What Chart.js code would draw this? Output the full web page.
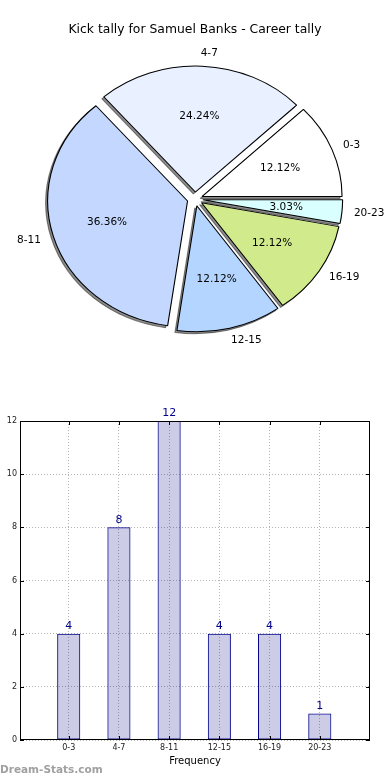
<!DOCTYPE html>
<html>
<head>
<title>Kick tally for Samuel Banks</title>
<script src="https://cdn.jsdelivr.net/npm/chart.js"></script>
<style>
    body { margin: 0; background: #fff; }
    #wrap { position: relative; width: 390px; height: 780px; }
    #pieBox { position: absolute; left: 0; top: 0; width: 390px; height: 380px; }
    #barBox { position: absolute; left: 0; top: 380px; width: 390px; height: 400px; }
    #mark {
        position: absolute; left: 0; top: 763px;
        font: bold 10.5px "DejaVu Sans", sans-serif; color: #a0a0a0;
    }
</style>
</head>
<body>
<div id="wrap">
    <div id="pieBox"><canvas id="pieChart"></canvas></div>
    <div id="barBox"><canvas id="barChart"></canvas></div>
    <div id="mark">Dream-Stats.com</div>
</div>

<script>
    // data
    const categories = ['0-3', '4-7', '8-11', '12-15', '16-19', '20-23'];
    const kickCounts = [4, 8, 12, 4, 4, 1];
    const yTicks = [0, 2, 4, 6, 8, 10, 12];

    const sliceColors = ['#ffffff', '#e9f0ff', '#c4d8ff', '#b3d5ff', '#d0ea8c', '#d9ffff'];
    const FAMILY = 'DejaVu Sans';
    const FONT = '"DejaVu Sans", sans-serif';
    const STRETCH = 1.11;  // the original pie is a bit wider than tall
    const GAP = 7;         // exploded slice distance, px
    const FAR = 10000;     // used to draw only the shadow

    Chart.defaults.font.family = FAMILY;
    Chart.defaults.color = '#000';

    const total = kickCounts.reduce((a, b) => a + b, 0);

    // matplotlib goes counter-clockwise from 3 o'clock, chart.js clockwise -> reverse
    const pieLabels = categories.slice().reverse();
    const pieValues = kickCounts.slice().reverse();
    const pieColors = sliceColors.slice().reverse();

    function drawArcs(ctx, arcs) {
        const cx = arcs[0].x, cy = arcs[0].y;
        ctx.translate(cx, cy);
        ctx.scale(STRETCH, 1);
        ctx.translate(-cx, -cy);
        arcs.forEach(arc => {
            const m = (arc.startAngle + arc.endAngle) / 2;
            ctx.save();
            ctx.translate(Math.cos(m) * GAP, Math.sin(m) * GAP);
            arc.draw(ctx);
            ctx.restore();
        });
    }

    const pieDecor = {
        id: 'pieDecor',
        beforeDatasetDraw(chart, args) {
            const ctx = chart.ctx;
            const arcs = args.meta.data;
            // shadows first, all under the slices
            ctx.save();
            ctx.translate(-FAR, 0);
            ctx.shadowColor = 'rgba(0,0,0,0.45)';
            ctx.shadowOffsetX = FAR - 2;
            ctx.shadowOffsetY = 2;
            ctx.shadowBlur = 0;
            drawArcs(ctx, arcs);
            ctx.restore();
            // slices
            ctx.save();
            drawArcs(ctx, arcs);
            ctx.restore();
            return false;
        },
        afterDatasetsDraw(chart) {
            const ctx = chart.ctx;
            const arcs = chart.getDatasetMeta(0).data;
            ctx.save();
            ctx.fillStyle = '#000';
            ctx.font = '10.5px ' + FONT;
            arcs.forEach((arc, i) => {
                const mid = (arc.startAngle + arc.endAngle) / 2;
                const r = arc.outerRadius;
                const cs = Math.cos(mid), sn = Math.sin(mid);
                let d = GAP + 0.6 * r;
                ctx.textAlign = 'center';
                ctx.textBaseline = 'middle';
                ctx.fillText((pieValues[i] / total * 100).toFixed(2) + '%',
                    arc.x + cs * d * STRETCH, arc.y + sn * d);
                d = GAP + 1.1 * r;
                ctx.textAlign = cs < 0 ? 'right' : 'left';
                const nudge = cs < 0 ? 1 : -2;
                ctx.fillText(pieLabels[i], arc.x + cs * d * STRETCH + nudge, arc.y + sn * d);
            });
            ctx.restore();
        }
    };

    new Chart(document.getElementById('pieChart'), {
        type: 'pie',
        data: {
            labels: pieLabels,
            datasets: [{
                data: pieValues,
                backgroundColor: pieColors,
                borderColor: '#000',
                borderWidth: 1,
                clip: false
            }]
        },
        options: {
            responsive: true,
            maintainAspectRatio: false,
            animation: false,
            events: [],
            rotation: 90,
            layout: { padding: { top: 0, bottom: 54.5, left: 68.5, right: 68.5 } },
            plugins: {
                legend: { display: false },
                tooltip: { enabled: false },
                title: {
                    display: true,
                    text: 'Kick tally for Samuel Banks - Career tally',
                    color: '#000',
                    font: { family: FAMILY, size: 13, weight: 'normal' },
                    padding: { top: 22, bottom: 34.9 }
                }
            }
        },
        plugins: [pieDecor]
    });

    // bar chart extras: box frame, inward ticks, value labels, y title
    const barDecor = {
        id: 'barDecor',
        afterDraw(chart) {
            const ctx = chart.ctx;
            const a = chart.chartArea;
            const xs = chart.scales.x, ys = chart.scales.y;
            ctx.save();
            ctx.strokeStyle = '#000';
            ctx.lineWidth = 1;
            ctx.strokeRect(a.left + 0.5, a.top + 0.5, a.right - a.left - 1, a.bottom - a.top - 1);
            ctx.beginPath();
            yTicks.forEach(v => {
                const y = Math.round(ys.getPixelForValue(v)) + 0.5;
                ctx.moveTo(a.left, y); ctx.lineTo(a.left + 4, y);
                ctx.moveTo(a.right, y); ctx.lineTo(a.right - 4, y);
            });
            categories.forEach((c, i) => {
                const x = Math.round(xs.getPixelForValue(i)) + 0.5;
                ctx.moveTo(x, a.bottom); ctx.lineTo(x, a.bottom - 4);
                ctx.moveTo(x, a.top); ctx.lineTo(x, a.top + 4);
            });
            ctx.stroke();

            // value labels
            ctx.fillStyle = '#00008b';
            ctx.font = '11px ' + FONT;
            ctx.textAlign = 'center';
            ctx.textBaseline = 'bottom';
            chart.getDatasetMeta(0).data.forEach((bar, i) => {
                ctx.fillText(String(kickCounts[i]), bar.x, bar.y - 2);
            });

            // y axis title, mostly cut off by the left edge like the original
            ctx.translate(3, 577);
            ctx.rotate(-Math.PI / 2);
            ctx.fillStyle = '#000';
            ctx.font = '10px ' + FONT;
            ctx.textAlign = 'center';
            ctx.textBaseline = 'alphabetic';
            ctx.fillText('Stat instance', 0, 0);
            ctx.restore();
        }
    };

    new Chart(document.getElementById('barChart'), {
        type: 'bar',
        data: {
            datasets: [{
                data: kickCounts.map((v, i) => ({ x: i, y: v })),
                backgroundColor: 'rgba(0,0,128,0.2)',
                borderColor: '#00008b',
                borderWidth: 1,
                borderSkipped: false,
                categoryPercentage: 1,
                barPercentage: 0.46
            }]
        },
        options: {
            responsive: true,
            maintainAspectRatio: false,
            animation: false,
            events: [],
            layout: { padding: { top: 41, right: 20, bottom: 10, left: 0 } },
            plugins: { legend: { display: false }, tooltip: { enabled: false } },
            scales: {
                x: {
                    type: 'linear',
                    offset: false,
                    min: -0.97,
                    max: 6,
                    afterBuildTicks: s => { s.ticks = categories.map((c, i) => ({ value: i })); },
                    afterFit: s => { s.height = 30; },
                    ticks: {
                        autoSkip: false,
                        maxRotation: 0,
                        padding: 3,
                        color: '#222',
                        font: { family: FAMILY, size: 8 },
                        callback: v => categories[v] ?? ''
                    },
                    grid: { color: '#b4b4b4', drawTicks: false, offset: false },
                    border: { display: false, dash: [1, 2] },
                    title: {
                        display: true,
                        text: 'Frequency',
                        color: '#000',
                        font: { family: FAMILY, size: 10 },
                        padding: { top: 0, bottom: 3 }
                    }
                },
                y: {
                    min: 0,
                    max: 12,
                    afterBuildTicks: s => { s.ticks = yTicks.map(v => ({ value: v })); },
                    afterFit: s => { s.width = 20; },
                    ticks: { padding: 3, color: '#222', font: { family: FAMILY, size: 8 } },
                    grid: { color: '#b4b4b4', drawTicks: false },
                    border: { display: false, dash: [1, 2] }
                }
            }
        },
        plugins: [barDecor]
    });
</script>
</body>
</html>
